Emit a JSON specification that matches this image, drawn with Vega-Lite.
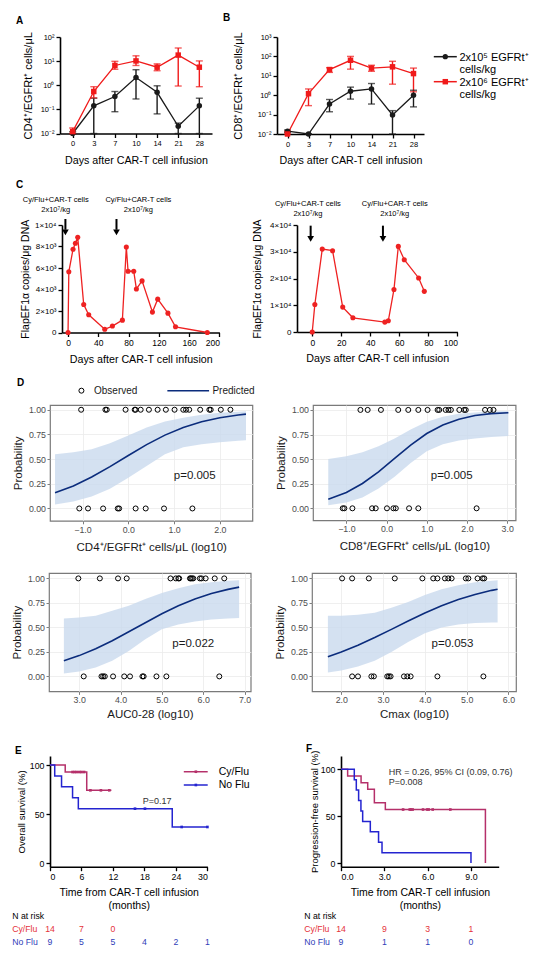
{
"padding": {"left": 0, "top": 13, "right": 0, "bottom": 0},
"spacing": 0,
"resolve": {"scale": {"color": "independent", "shape": "independent"}},
"config": {
  "font": "Liberation Sans",
  "view": {"stroke": null},
  "axis": {"domainColor": "#000000", "domainWidth": 1.6, "tickColor": "#000000", "tickWidth": 1.3, "tickSize": 4, "labelColor": "#000000", "labelFontSize": 8, "labelPadding": 2, "labelFont": "Liberation Sans", "titleFont": "Liberation Sans", "titleColor": "#000000", "titleFontSize": 10.5, "titleFontWeight": "normal", "grid": false, "labelOverlap": false},
  "title": {"font": "Liberation Sans"},
  "text": {"font": "Liberation Sans"}
},
"datasets": {
  "cd4": [
    {"day":0,"dose":"low","val":0.010,"lo":0.010,"hi":0.012},
    {"day":3,"dose":"low","val":0.14,"lo":0.010,"hi":0.29},
    {"day":7,"dose":"low","val":0.34,"lo":0.08,"hi":0.55},
    {"day":10,"dose":"low","val":2.1,"lo":0.27,"hi":4.4},
    {"day":14,"dose":"low","val":0.51,"lo":0.065,"hi":0.95},
    {"day":21,"dose":"low","val":0.020,"lo":0.010,"hi":0.027},
    {"day":28,"dose":"low","val":0.14,"lo":0.010,"hi":0.29},
    {"day":0,"dose":"high","val":0.012,"lo":0.010,"hi":0.017},
    {"day":3,"dose":"high","val":0.55,"lo":0.30,"hi":0.87},
    {"day":7,"dose":"high","val":6.6,"lo":4.6,"hi":9.8},
    {"day":10,"dose":"high","val":10.2,"lo":6.6,"hi":16.6},
    {"day":14,"dose":"high","val":5.6,"lo":4.0,"hi":7.7},
    {"day":21,"dose":"high","val":17.8,"lo":0.93,"hi":35},
    {"day":28,"dose":"high","val":5.6,"lo":0.87,"hi":10.2}
  ],
  "cd8": [
    {"day":0,"dose":"low","val":0.014,"lo":0.012,"hi":0.016},
    {"day":3,"dose":"low","val":0.010,"lo":0.010,"hi":0.010},
    {"day":7,"dose":"low","val":0.35,"lo":0.14,"hi":0.6},
    {"day":10,"dose":"low","val":1.6,"lo":0.63,"hi":2.6},
    {"day":14,"dose":"low","val":2.1,"lo":0.35,"hi":4.0},
    {"day":21,"dose":"low","val":0.095,"lo":0.010,"hi":0.16},
    {"day":28,"dose":"low","val":1.0,"lo":0.25,"hi":1.8},
    {"day":0,"dose":"high","val":0.010,"lo":0.010,"hi":0.014},
    {"day":3,"dose":"high","val":1.2,"lo":0.29,"hi":2.1},
    {"day":7,"dose":"high","val":21,"lo":15,"hi":26},
    {"day":10,"dose":"high","val":63,"lo":22,"hi":100},
    {"day":14,"dose":"high","val":25,"lo":17,"hi":35},
    {"day":21,"dose":"high","val":29,"lo":3.7,"hi":56},
    {"day":28,"dose":"high","val":13,"lo":1.5,"hi":25}
  ],
  "flapL": [{"day":0,"copies":0},{"day":1,"copies":5650},{"day":6.6,"copies":7750},{"day":9.7,"copies":8300},{"day":12.8,"copies":8850},{"day":20.7,"copies":2600},{"day":27.3,"copies":1650},{"day":48.5,"copies":300},{"day":58.6,"copies":600},{"day":71.8,"copies":1150},{"day":77,"copies":7950},{"day":79.3,"copies":5700},{"day":86.8,"copies":5700},{"day":90.3,"copies":4050},{"day":97.8,"copies":4800},{"day":111.5,"copies":1900},{"day":118.5,"copies":3100},{"day":132,"copies":1800},{"day":142,"copies":530},{"day":184,"copies":0}],
  "flapR": [{"day":0,"copies":0},{"day":1.8,"copies":10300},{"day":6.9,"copies":31000},{"day":14,"copies":30400},{"day":21,"copies":9300},{"day":28,"copies":5300},{"day":50,"copies":3700},{"day":52.4,"copies":4200},{"day":56.3,"copies":15900},{"day":59.3,"copies":32000},{"day":63.4,"copies":27000},{"day":73.3,"copies":20200},{"day":77.2,"copies":15200}],
  "infL": [{"day":-3.5,"labelDay":-16.3,"label":["Cy/Flu+CAR-T cells","2x10⁷/kg"]},{"day":64,"labelDay":92.9,"label":["Cy/Flu+CAR-T cells","2x10⁷/kg"]}],
  "infR": [{"day":-1.1,"labelDay":-3,"label":["Cy/Flu+CAR-T cells","2x10⁷/kg"]},{"day":48.7,"labelDay":56.8,"label":["Cy/Flu+CAR-T cells","2x10⁷/kg"]}],
  "d1c": [{"x":-1.6,"p":0.158,"lo":0.04,"hi":0.55},{"x":-1.2,"p":0.228,"lo":0.07,"hi":0.57},{"x":-0.8,"p":0.318,"lo":0.12,"hi":0.6},{"x":-0.4,"p":0.424,"lo":0.2,"hi":0.66},{"x":0,"p":0.537,"lo":0.31,"hi":0.74},{"x":0.4,"p":0.647,"lo":0.43,"hi":0.82},{"x":0.8,"p":0.743,"lo":0.55,"hi":0.88},{"x":1.2,"p":0.82,"lo":0.62,"hi":0.92},{"x":1.6,"p":0.878,"lo":0.65,"hi":0.95},{"x":2.0,"p":0.919,"lo":0.67,"hi":0.97},{"x":2.4,"p":0.947,"lo":0.685,"hi":0.98},{"x":2.57,"p":0.956,"lo":0.69,"hi":0.985}],
  "d1o": [{"x":-1.03,"y":1},{"x":-0.5,"y":1},{"x":-0.47,"y":1},{"x":-0.06,"y":1},{"x":0.14,"y":1},{"x":0.16,"y":1},{"x":0.27,"y":1},{"x":0.45,"y":1},{"x":0.64,"y":1},{"x":0.82,"y":1},{"x":1.01,"y":1},{"x":1.2,"y":1},{"x":1.26,"y":1},{"x":1.33,"y":1},{"x":1.57,"y":1},{"x":1.77,"y":1},{"x":1.8,"y":1},{"x":2.02,"y":1},{"x":2.23,"y":1},{"x":-1.07,"y":0},{"x":-0.88,"y":0},{"x":-0.55,"y":0},{"x":-0.23,"y":0},{"x":-0.2,"y":0},{"x":0.16,"y":0},{"x":0.38,"y":0},{"x":0.78,"y":0},{"x":1.4,"y":0}],
  "d2c": [{"x":-1.45,"p":0.093,"lo":0.03,"hi":0.5},{"x":-1.0,"p":0.161,"lo":0.06,"hi":0.53},{"x":-0.6,"p":0.252,"lo":0.11,"hi":0.57},{"x":-0.2,"p":0.371,"lo":0.2,"hi":0.63},{"x":0.2,"p":0.507,"lo":0.32,"hi":0.71},{"x":0.6,"p":0.643,"lo":0.46,"hi":0.8},{"x":1.0,"p":0.76,"lo":0.58,"hi":0.88},{"x":1.4,"p":0.847,"lo":0.65,"hi":0.93},{"x":1.8,"p":0.906,"lo":0.69,"hi":0.96},{"x":2.2,"p":0.944,"lo":0.71,"hi":0.975},{"x":2.6,"p":0.962,"lo":0.725,"hi":0.985},{"x":3.03,"p":0.972,"lo":0.735,"hi":0.99}],
  "d2o": [{"x":-0.65,"y":1},{"x":-0.47,"y":1},{"x":-0.14,"y":1},{"x":0.29,"y":1},{"x":0.54,"y":1},{"x":0.79,"y":1},{"x":1.02,"y":1},{"x":1.27,"y":1},{"x":1.31,"y":1},{"x":1.47,"y":1},{"x":1.54,"y":1},{"x":1.6,"y":1},{"x":1.81,"y":1},{"x":1.93,"y":1},{"x":1.97,"y":1},{"x":2.45,"y":1},{"x":2.57,"y":1},{"x":2.66,"y":1},{"x":-1.09,"y":0},{"x":-1.05,"y":0},{"x":-0.85,"y":0},{"x":-0.36,"y":0},{"x":-0.27,"y":0},{"x":0.01,"y":0},{"x":0.17,"y":0},{"x":0.23,"y":0},{"x":0.56,"y":0},{"x":0.79,"y":0},{"x":2.24,"y":0}],
  "d3c": [{"x":2.63,"p":0.16,"lo":0.03,"hi":0.59},{"x":3.0,"p":0.212,"lo":0.05,"hi":0.6},{"x":3.4,"p":0.282,"lo":0.09,"hi":0.62},{"x":3.8,"p":0.364,"lo":0.16,"hi":0.67},{"x":4.2,"p":0.455,"lo":0.26,"hi":0.72},{"x":4.6,"p":0.548,"lo":0.38,"hi":0.79},{"x":5.0,"p":0.639,"lo":0.48,"hi":0.85},{"x":5.4,"p":0.72,"lo":0.53,"hi":0.9},{"x":5.8,"p":0.79,"lo":0.56,"hi":0.94},{"x":6.2,"p":0.845,"lo":0.58,"hi":0.96},{"x":6.6,"p":0.888,"lo":0.59,"hi":0.975},{"x":6.87,"p":0.911,"lo":0.595,"hi":0.98}],
  "d3o": [{"x":2.98,"y":1},{"x":3.5,"y":1},{"x":3.94,"y":1},{"x":4.15,"y":1},{"x":5.21,"y":1},{"x":5.34,"y":1},{"x":5.4,"y":1},{"x":5.42,"y":1},{"x":5.68,"y":1},{"x":5.7,"y":1},{"x":5.73,"y":1},{"x":5.76,"y":1},{"x":5.92,"y":1},{"x":5.96,"y":1},{"x":6.06,"y":1},{"x":6.28,"y":1},{"x":6.51,"y":1},{"x":3.11,"y":0},{"x":3.54,"y":0},{"x":3.58,"y":0},{"x":3.62,"y":0},{"x":3.82,"y":0},{"x":4.09,"y":0},{"x":4.23,"y":0},{"x":4.53,"y":0},{"x":4.56,"y":0},{"x":4.87,"y":0},{"x":5.11,"y":0},{"x":6.39,"y":0}],
  "d4c": [{"x":1.68,"p":0.201,"lo":0.04,"hi":0.62},{"x":2.0,"p":0.248,"lo":0.06,"hi":0.62},{"x":2.4,"p":0.317,"lo":0.1,"hi":0.63},{"x":2.8,"p":0.396,"lo":0.16,"hi":0.65},{"x":3.2,"p":0.48,"lo":0.25,"hi":0.7},{"x":3.6,"p":0.565,"lo":0.35,"hi":0.76},{"x":4.0,"p":0.647,"lo":0.44,"hi":0.83},{"x":4.4,"p":0.72,"lo":0.5,"hi":0.89},{"x":4.8,"p":0.784,"lo":0.53,"hi":0.93},{"x":5.2,"p":0.836,"lo":0.545,"hi":0.96},{"x":5.6,"p":0.878,"lo":0.55,"hi":0.975},{"x":5.74,"p":0.89,"lo":0.55,"hi":0.98}],
  "d4o": [{"x":2.02,"y":1},{"x":2.26,"y":1},{"x":2.66,"y":1},{"x":3.28,"y":1},{"x":3.94,"y":1},{"x":4.2,"y":1},{"x":4.3,"y":1},{"x":4.48,"y":1},{"x":4.56,"y":1},{"x":4.64,"y":1},{"x":4.98,"y":1},{"x":5.04,"y":1},{"x":5.26,"y":1},{"x":5.38,"y":1},{"x":5.42,"y":1},{"x":2.26,"y":0},{"x":2.4,"y":0},{"x":2.72,"y":0},{"x":2.78,"y":0},{"x":3.1,"y":0},{"x":3.14,"y":0},{"x":3.18,"y":0},{"x":3.5,"y":0},{"x":3.58,"y":0},{"x":3.66,"y":0},{"x":4.3,"y":0},{"x":5.4,"y":0}],
  "osKM": [{"group":"Cy/Flu","t":0,"s":100},{"group":"Cy/Flu","t":2.9,"s":92.9},{"group":"Cy/Flu","t":7.0,"s":74.3},{"group":"Cy/Flu","t":11.7,"s":74.3},{"group":"No Flu","t":0,"s":100},{"group":"No Flu","t":0.9,"s":88.9},{"group":"No Flu","t":2.2,"s":77.8},{"group":"No Flu","t":4.3,"s":66.7},{"group":"No Flu","t":5.4,"s":55.6},{"group":"No Flu","t":23.3,"s":37.0},{"group":"No Flu","t":30,"s":37.0}],
  "osCens": [{"group":"Cy/Flu","t":4.3,"s":92.9},{"group":"Cy/Flu","t":4.7,"s":92.9},{"group":"Cy/Flu","t":5.1,"s":92.9},{"group":"Cy/Flu","t":5.6,"s":92.9},{"group":"Cy/Flu","t":6.0,"s":92.9},{"group":"Cy/Flu","t":6.5,"s":92.9},{"group":"Cy/Flu","t":7.7,"s":74.3},{"group":"Cy/Flu","t":9.7,"s":74.3},{"group":"Cy/Flu","t":11.3,"s":74.3},{"group":"No Flu","t":16.2,"s":55.6},{"group":"No Flu","t":18.1,"s":55.6},{"group":"No Flu","t":25.1,"s":37.0},{"group":"No Flu","t":30,"s":37.0}],
  "pfsKM": [{"group":"Cy/Flu","t":0,"s":100},{"group":"Cy/Flu","t":0.46,"s":92.9},{"group":"Cy/Flu","t":1.39,"s":85.7},{"group":"Cy/Flu","t":1.85,"s":78.6},{"group":"Cy/Flu","t":2.31,"s":64.3},{"group":"Cy/Flu","t":3.07,"s":57.1},{"group":"Cy/Flu","t":10.0,"s":0},{"group":"No Flu","t":0,"s":100},{"group":"No Flu","t":0.92,"s":88.9},{"group":"No Flu","t":1.06,"s":77.8},{"group":"No Flu","t":1.22,"s":66.7},{"group":"No Flu","t":1.38,"s":55.6},{"group":"No Flu","t":1.5,"s":44.4},{"group":"No Flu","t":2.03,"s":33.3},{"group":"No Flu","t":2.6,"s":22.2},{"group":"No Flu","t":2.84,"s":11.1},{"group":"No Flu","t":9.0,"s":0}],
  "pfsCens": [{"group":"Cy/Flu","t":4.3,"s":57.1},{"group":"Cy/Flu","t":4.76,"s":57.1},{"group":"Cy/Flu","t":4.85,"s":57.1},{"group":"Cy/Flu","t":4.96,"s":57.1},{"group":"Cy/Flu","t":5.68,"s":57.1},{"group":"Cy/Flu","t":5.96,"s":57.1},{"group":"Cy/Flu","t":6.07,"s":57.1},{"group":"Cy/Flu","t":6.35,"s":57.1},{"group":"Cy/Flu","t":7.57,"s":57.1}],
  "riskE": [{"group":"Cy/Flu","t":0,"n":14},{"group":"Cy/Flu","t":6,"n":7},{"group":"Cy/Flu","t":12,"n":0},{"group":"No Flu","t":0,"n":9},{"group":"No Flu","t":6,"n":5},{"group":"No Flu","t":12,"n":5},{"group":"No Flu","t":18,"n":4},{"group":"No Flu","t":24,"n":2},{"group":"No Flu","t":30,"n":1}],
  "riskF": [{"group":"Cy/Flu","t":0,"n":14},{"group":"Cy/Flu","t":3,"n":9},{"group":"Cy/Flu","t":6,"n":3},{"group":"Cy/Flu","t":9,"n":1},{"group":"No Flu","t":0,"n":9},{"group":"No Flu","t":3,"n":1},{"group":"No Flu","t":6,"n":1},{"group":"No Flu","t":9,"n":0}],
  "riskLab": [{"row":"head","label":"N at risk"},{"row":"Cy/Flu","label":"Cy/Flu"},{"row":"No Flu","label":"No Flu"}],
  "blank": [{"b": 0}]
},
"vconcat": [
 {"hconcat": [
  {"data": {"name": "blank"}, "mark": {"type": "point", "opacity": 0}, "encoding": {}, "width": 16, "height": 1},
  {"data": {"name": "blank"}, "mark": {"type": "point", "opacity": 0}, "encoding": {}, "width": 43.3, "height": 141.5,
   "title": {"text": "A", "anchor": "start", "offset": 3.5, "baseline": "alphabetic", "fontSize": 10, "fontWeight": "bold", "color": "#000000"}},
  {"width": 152, "height": 96.5, "data": {"name": "cd4"},
   "layer": [
    {"mark": {"type": "rule", "strokeWidth": 1.4},
     "encoding": {
      "x": {"field": "day", "type": "ordinal", "scale": {"type": "point", "padding": 0.6}, "axis": {"labelAngle": 0, "labelFontSize": 7.5, "title": "Days after CAR-T cell infusion", "titleFontSize": 10.7, "titlePadding": 8}},
      "y": {"field": "lo", "type": "quantitative", "scale": {"type": "log", "domain": [0.01, 100], "nice": false}, "axis": {"values": [0.01, 0.1, 1, 10, 100], "tickCount": 10, "labelOverlap": false, "labelExpr": "datum.value == 0.01 ? '10⁻²' : datum.value == 0.1 ? '10⁻¹' : datum.value == 1 ? '10⁰' : datum.value == 10 ? '10¹' : datum.value == 100 ? '10²' : '10³'", "labelFontSize": 7.5, "title": "CD4⁺/EGFRt⁺ cells/μL", "titleFontSize": 11, "titlePadding": 7}},
      "y2": {"field": "hi"},
      "color": {"field": "dose", "type": "nominal", "scale": {"domain": ["low", "high"], "range": ["#1a1a1a", "#f01a1a"]}, "legend": null}
     }},
    {"mark": {"type": "tick", "size": 7, "thickness": 1.4},
     "encoding": {"x": {"field": "day", "type": "ordinal"}, "y": {"field": "hi", "type": "quantitative"}, "color": {"field": "dose", "type": "nominal", "legend": null}}},
    {"mark": {"type": "tick", "size": 7, "thickness": 1.4},
     "encoding": {"x": {"field": "day", "type": "ordinal"}, "y": {"field": "lo", "type": "quantitative"}, "color": {"field": "dose", "type": "nominal", "legend": null}}},
    {"mark": {"type": "line", "strokeWidth": 1.3},
     "encoding": {"x": {"field": "day", "type": "ordinal"}, "y": {"field": "val", "type": "quantitative"}, "color": {"field": "dose", "type": "nominal", "legend": null}}},
    {"mark": {"type": "point", "filled": true, "size": 30, "opacity": 1},
     "encoding": {"x": {"field": "day", "type": "ordinal"}, "y": {"field": "val", "type": "quantitative"}, "color": {"field": "dose", "type": "nominal", "legend": null}, "shape": {"field": "dose", "type": "nominal", "scale": {"domain": ["low", "high"], "range": ["circle", "square"]}, "legend": null}}}
   ]},
  {"data": {"name": "blank"}, "mark": {"type": "point", "opacity": 0}, "encoding": {}, "width": 10.4, "height": 1},
  {"data": {"name": "blank"}, "mark": {"type": "point", "opacity": 0}, "encoding": {}, "width": 53.3, "height": 1,
   "title": {"text": "B", "anchor": "start", "offset": 3.5, "baseline": "alphabetic", "fontSize": 10, "fontWeight": "bold", "color": "#000000"}},
  {"width": 147, "height": 97, "data": {"name": "cd8"},
   "layer": [
    {"mark": {"type": "rule", "strokeWidth": 1.4},
     "encoding": {
      "x": {"field": "day", "type": "ordinal", "scale": {"type": "point", "padding": 0.5}, "axis": {"labelAngle": 0, "labelFontSize": 7.5, "title": "Days after CAR-T cell infusion", "titleFontSize": 10.7, "titlePadding": 8}},
      "y": {"field": "lo", "type": "quantitative", "scale": {"type": "log", "domain": [0.01, 1000], "nice": false}, "axis": {"values": [0.01, 0.1, 1, 10, 100, 1000], "tickCount": 10, "labelOverlap": false, "labelExpr": "datum.value == 0.01 ? '10⁻²' : datum.value == 0.1 ? '10⁻¹' : datum.value == 1 ? '10⁰' : datum.value == 10 ? '10¹' : datum.value == 100 ? '10²' : '10³'", "labelFontSize": 7.5, "title": "CD8⁺/EGFRt⁺ cells/μL", "titleFontSize": 11, "titlePadding": 14}},
      "y2": {"field": "hi"},
      "color": {"field": "dose", "type": "nominal", "scale": {"domain": ["low", "high"], "range": ["#1a1a1a", "#f01a1a"]}, "legend": null}
     }},
    {"mark": {"type": "tick", "size": 7, "thickness": 1.4},
     "encoding": {"x": {"field": "day", "type": "ordinal"}, "y": {"field": "hi", "type": "quantitative"}, "color": {"field": "dose", "type": "nominal", "legend": null}}},
    {"mark": {"type": "tick", "size": 7, "thickness": 1.4},
     "encoding": {"x": {"field": "day", "type": "ordinal"}, "y": {"field": "lo", "type": "quantitative"}, "color": {"field": "dose", "type": "nominal", "legend": null}}},
    {"mark": {"type": "line", "strokeWidth": 1.3},
     "encoding": {"x": {"field": "day", "type": "ordinal"}, "y": {"field": "val", "type": "quantitative"}, "color": {"field": "dose", "type": "nominal", "legend": null}}},
    {"mark": {"type": "point", "filled": true, "size": 30, "opacity": 1},
     "encoding": {"x": {"field": "day", "type": "ordinal"}, "y": {"field": "val", "type": "quantitative"}, "color": {"field": "dose", "type": "nominal", "legend": null}, "shape": {"field": "dose", "type": "nominal", "scale": {"domain": ["low", "high"], "range": ["circle", "square"]}, "legend": null}}},
    {"data": {"values": [{"k": 1}]}, "mark": {"type": "rule", "color": "#1a1a1a", "strokeWidth": 1.5, "xOffset": 20.3, "x2Offset": 43.3},
     "encoding": {"x": {"datum": 28, "type": "ordinal"}, "x2": {"datum": 28}, "y": {"datum": 96.6, "type": "quantitative"}}},
    {"data": {"values": [{"k": 1}]}, "mark": {"type": "point", "shape": "circle", "filled": true, "size": 28, "opacity": 1, "color": "#1a1a1a", "xOffset": 31.8},
     "encoding": {"x": {"datum": 28, "type": "ordinal"}, "y": {"datum": 96.6, "type": "quantitative"}}},
    {"data": {"values": [{"label": ["2x10⁵ EGFRt⁺", "cells/kg"]}]}, "mark": {"type": "text", "align": "left", "baseline": "alphabetic", "dx": 46, "dy": 4, "lineHeight": 12, "fontSize": 11, "color": "#000000"},
     "encoding": {"x": {"datum": 28, "type": "ordinal"}, "y": {"datum": 96.6, "type": "quantitative"}, "text": {"field": "label"}}},
    {"data": {"values": [{"k": 1}]}, "mark": {"type": "rule", "color": "#f01a1a", "strokeWidth": 1.5, "xOffset": 20.3, "x2Offset": 43.3},
     "encoding": {"x": {"datum": 28, "type": "ordinal"}, "x2": {"datum": 28}, "y": {"datum": 4.97, "type": "quantitative"}}},
    {"data": {"values": [{"k": 1}]}, "mark": {"type": "point", "shape": "square", "filled": true, "size": 30, "opacity": 1, "color": "#f01a1a", "xOffset": 31.8},
     "encoding": {"x": {"datum": 28, "type": "ordinal"}, "y": {"datum": 4.97, "type": "quantitative"}}},
    {"data": {"values": [{"label": ["2x10⁶ EGFRt⁺", "cells/kg"]}]}, "mark": {"type": "text", "align": "left", "baseline": "alphabetic", "dx": 46, "dy": 4, "lineHeight": 12, "fontSize": 11, "color": "#000000"},
     "encoding": {"x": {"datum": 28, "type": "ordinal"}, "y": {"datum": 4.97, "type": "quantitative"}, "text": {"field": "label"}}}
   ]}
 ], "spacing": 0, "bounds": "flush", "resolve": {"scale": {"color": "independent", "shape": "independent"}}},

 {"hconcat": [
  {"data": {"name": "blank"}, "mark": {"type": "point", "opacity": 0}, "encoding": {}, "width": 16, "height": 1},
  {"data": {"name": "blank"}, "mark": {"type": "point", "opacity": 0}, "encoding": {}, "width": 45.7, "height": 152.8,
   "title": {"text": "C", "anchor": "start", "offset": 27.5, "baseline": "alphabetic", "fontSize": 10, "fontWeight": "bold", "color": "#000000"}},
  {"width": 157.4, "height": 107.5,
   "layer": [
    {"data": {"name": "flapL"}, "mark": {"type": "line", "color": "#ee2222", "strokeWidth": 1.3},
     "encoding": {
      "x": {"field": "day", "type": "quantitative", "scale": {"domain": [-8, 200], "nice": false, "zero": false}, "axis": {"values": [0, 40, 80, 120, 160, 200], "tickCount": 20, "labelOverlap": false, "labelFontSize": 8.5, "title": "Days after CAR-T cell infusion", "titleFontSize": 10.7, "titlePadding": 7}},
      "y": {"field": "copies", "type": "quantitative", "scale": {"domain": [0, 10000], "nice": false}, "axis": {"values": [0, 2000, 4000, 6000, 8000, 10000], "tickCount": 20, "labelOverlap": false, "labelFontSize": 8, "labelExpr": "datum.value == 0 ? '0' : datum.value % 10000 == 0 ? (datum.value / 10000) + '×10⁴' : (datum.value / 1000) + '×10³'", "title": "FlapEF1α copies/μg DNA", "titleFontSize": 10.5, "titlePadding": 4.5}}
     }},
    {"data": {"name": "flapL"}, "mark": {"type": "point", "filled": true, "color": "#ee2222", "size": 26, "opacity": 1},
     "encoding": {"x": {"field": "day", "type": "quantitative"}, "y": {"field": "copies", "type": "quantitative"}}},
    {"data": {"name": "infL"}, "mark": {"type": "rule", "strokeWidth": 2, "color": "#000000"},
     "encoding": {"x": {"field": "day", "type": "quantitative"}, "y": {"datum": 10560}, "y2": {"datum": 9560}}},
    {"data": {"name": "infL"}, "mark": {"type": "point", "shape": "triangle-down", "filled": true, "color": "#000000", "size": 45, "opacity": 1},
     "encoding": {"x": {"field": "day", "type": "quantitative"}, "y": {"datum": 9310}}},
    {"data": {"name": "infL"}, "mark": {"type": "text", "fontSize": 7.5, "lineHeight": 10, "baseline": "alphabetic", "align": "center", "dy": -23, "color": "#000000"},
     "encoding": {"x": {"field": "labelDay", "type": "quantitative"}, "y": {"datum": 10000}, "text": {"field": "label"}}}
   ]},
  {"data": {"name": "blank"}, "mark": {"type": "point", "opacity": 0}, "encoding": {}, "width": 76.6, "height": 1},
  {"width": 160.4, "height": 107,
   "layer": [
    {"data": {"name": "flapR"}, "mark": {"type": "line", "color": "#ee2222", "strokeWidth": 1.3},
     "encoding": {
      "x": {"field": "day", "type": "quantitative", "scale": {"domain": [-10.5, 100], "nice": false, "zero": false}, "axis": {"values": [0, 20, 40, 60, 80, 100], "tickCount": 20, "labelOverlap": false, "labelFontSize": 8.5, "title": "Days after CAR-T cell infusion", "titleFontSize": 10.7, "titlePadding": 7}},
      "y": {"field": "copies", "type": "quantitative", "scale": {"domain": [0, 40000], "nice": false}, "axis": {"values": [0, 10000, 20000, 30000, 40000], "tickCount": 20, "labelOverlap": false, "labelFontSize": 8, "labelExpr": "datum.value == 0 ? '0' : datum.value % 10000 == 0 ? (datum.value / 10000) + '×10⁴' : (datum.value / 1000) + '×10³'", "title": "FlapEF1α copies/μg DNA", "titleFontSize": 10.5, "titlePadding": 7}}
     }},
    {"data": {"name": "flapR"}, "mark": {"type": "point", "filled": true, "color": "#ee2222", "size": 26, "opacity": 1},
     "encoding": {"x": {"field": "day", "type": "quantitative"}, "y": {"field": "copies", "type": "quantitative"}}},
    {"data": {"name": "infR"}, "mark": {"type": "rule", "strokeWidth": 2, "color": "#000000"},
     "encoding": {"x": {"field": "day", "type": "quantitative"}, "y": {"datum": 39750}, "y2": {"datum": 35780}}},
    {"data": {"name": "infR"}, "mark": {"type": "point", "shape": "triangle-down", "filled": true, "color": "#000000", "size": 45, "opacity": 1},
     "encoding": {"x": {"field": "day", "type": "quantitative"}, "y": {"datum": 34780}}},
    {"data": {"name": "infR"}, "mark": {"type": "text", "fontSize": 7.5, "lineHeight": 10, "baseline": "alphabetic", "align": "center", "dy": -19.5, "color": "#000000"},
     "encoding": {"x": {"field": "labelDay", "type": "quantitative"}, "y": {"datum": 40000}, "text": {"field": "label"}}}
   ]}
 ], "spacing": 0, "bounds": "flush", "resolve": {"scale": {"color": "independent", "shape": "independent"}}},

 {"hconcat": [
  {"data": {"name": "blank"}, "mark": {"type": "point", "opacity": 0}, "encoding": {}, "width": 16.7, "height": 1},
  {"data": {"name": "blank"}, "mark": {"type": "point", "opacity": 0}, "encoding": {}, "width": 32.6, "height": 164.3,
   "title": {"text": "D", "anchor": "start", "offset": 8.7, "baseline": "alphabetic", "fontSize": 10, "fontWeight": "bold", "color": "#000000"}},
  {"width": 202.4, "height": 115.8,
   "view": {"stroke": "#7a7a7a", "strokeWidth": 1.2},
   "layer": [
    {"data": {"name": "d1c"}, "mark": {"type": "area", "color": "#c9d9ee", "opacity": 0.8},
     "encoding": {
      "x": {"field": "x", "type": "quantitative", "scale": {"domain": [-1.71, 2.71], "nice": false, "zero": false}, "axis": {"values": [-1, 0, 1, 2], "tickCount": 20, "labelOverlap": false, "title": "CD4⁺/EGFRt⁺ cells/μL (log10)", "domain": false, "tickColor": "#7f7f7f", "tickWidth": 1, "tickSize": 3, "labelColor": "#4d4d4d", "labelFontSize": 8.8, "labelPadding": 1.5, "grid": true, "gridColor": "#ebebeb", "gridWidth": 0.8, "titleFontSize": 11.5, "titleColor": "#1a1a1a", "titlePadding": 7}},
      "y": {"field": "lo", "type": "quantitative", "scale": {"domain": [-0.125, 1.048], "nice": false, "zero": false}, "axis": {"values": [0, 0.25, 0.5, 0.75, 1], "tickCount": 20, "labelOverlap": false, "format": ".2f", "title": "Probability", "domain": false, "tickColor": "#7f7f7f", "tickWidth": 1, "tickSize": 3, "labelColor": "#4d4d4d", "labelFontSize": 8.8, "labelPadding": 1.5, "grid": true, "gridColor": "#ebebeb", "gridWidth": 0.8, "titleFontSize": 11.5, "titleColor": "#1a1a1a", "titlePadding": 5}},
      "y2": {"field": "hi"}
     }},
    {"data": {"name": "d1c"}, "mark": {"type": "line", "color": "#0b2c7c", "strokeWidth": 1.6},
     "encoding": {"x": {"field": "x", "type": "quantitative"}, "y": {"field": "p", "type": "quantitative"}}},
    {"data": {"name": "d1o"}, "mark": {"type": "point", "shape": "circle", "filled": false, "color": "#000000", "size": 25, "strokeWidth": 1, "opacity": 1},
     "encoding": {"x": {"field": "x", "type": "quantitative"}, "y": {"field": "y", "type": "quantitative"}}},
    {"data": {"values": [{"label": "p=0.005"}]}, "mark": {"type": "text", "fontSize": 11.5, "color": "#1a1a1a"},
     "encoding": {"x": {"datum": 1.45}, "y": {"datum": 0.33}, "text": {"field": "label"}}},
    {"data": {"values": [{"k": 1}]}, "mark": {"type": "point", "shape": "circle", "filled": false, "color": "#000000", "size": 25, "strokeWidth": 1, "opacity": 1},
     "encoding": {"x": {"datum": -1.024}, "y": {"datum": 1.193}}},
    {"data": {"values": [{"label": "Observed"}]}, "mark": {"type": "text", "align": "left", "baseline": "middle", "fontSize": 10, "color": "#1a1a1a"},
     "encoding": {"x": {"datum": -0.749}, "y": {"datum": 1.193}, "text": {"field": "label"}}},
    {"data": {"values": [{"k": 1}]}, "mark": {"type": "rule", "color": "#0b2c7c", "strokeWidth": 1.6},
     "encoding": {"x": {"datum": 0.853}, "x2": {"datum": 1.764}, "y": {"datum": 1.193}}},
    {"data": {"values": [{"label": "Predicted"}]}, "mark": {"type": "text", "align": "left", "baseline": "middle", "fontSize": 10, "color": "#1a1a1a"},
     "encoding": {"x": {"datum": 1.836}, "y": {"datum": 1.193}, "text": {"field": "label"}}}
   ]},
  {"data": {"name": "blank"}, "mark": {"type": "point", "opacity": 0}, "encoding": {}, "width": 60, "height": 1},
  {"width": 202.6, "height": 115.3,
   "view": {"stroke": "#7a7a7a", "strokeWidth": 1.2},
   "layer": [
    {"data": {"name": "d2c"}, "mark": {"type": "area", "color": "#c9d9ee", "opacity": 0.8},
     "encoding": {
      "x": {"field": "x", "type": "quantitative", "scale": {"domain": [-1.83, 3.21], "nice": false, "zero": false}, "axis": {"values": [-1, 0, 1, 2, 3], "tickCount": 20, "labelOverlap": false, "title": "CD8⁺/EGFRt⁺ cells/μL (log10)", "domain": false, "tickColor": "#7f7f7f", "tickWidth": 1, "tickSize": 3, "labelColor": "#4d4d4d", "labelFontSize": 8.8, "labelPadding": 1.5, "grid": true, "gridColor": "#ebebeb", "gridWidth": 0.8, "titleFontSize": 11.5, "titleColor": "#1a1a1a", "titlePadding": 7}},
      "y": {"field": "lo", "type": "quantitative", "scale": {"domain": [-0.122, 1.05], "nice": false, "zero": false}, "axis": {"values": [0, 0.25, 0.5, 0.75, 1], "tickCount": 20, "labelOverlap": false, "format": ".2f", "title": "Probability", "domain": false, "tickColor": "#7f7f7f", "tickWidth": 1, "tickSize": 3, "labelColor": "#4d4d4d", "labelFontSize": 8.8, "labelPadding": 1.5, "grid": true, "gridColor": "#ebebeb", "gridWidth": 0.8, "titleFontSize": 11.5, "titleColor": "#1a1a1a", "titlePadding": 5}},
      "y2": {"field": "hi"}
     }},
    {"data": {"name": "d2c"}, "mark": {"type": "line", "color": "#0b2c7c", "strokeWidth": 1.6},
     "encoding": {"x": {"field": "x", "type": "quantitative"}, "y": {"field": "p", "type": "quantitative"}}},
    {"data": {"name": "d2o"}, "mark": {"type": "point", "shape": "circle", "filled": false, "color": "#000000", "size": 25, "strokeWidth": 1, "opacity": 1},
     "encoding": {"x": {"field": "x", "type": "quantitative"}, "y": {"field": "y", "type": "quantitative"}}},
    {"data": {"values": [{"label": "p=0.005"}]}, "mark": {"type": "text", "fontSize": 11.5, "color": "#1a1a1a"},
     "encoding": {"x": {"datum": 1.62}, "y": {"datum": 0.33}, "text": {"field": "label"}}}
   ]}
 ], "spacing": 0, "bounds": "flush", "resolve": {"scale": {"color": "independent", "shape": "independent"}}},

 {"hconcat": [
  {"data": {"name": "blank"}, "mark": {"type": "point", "opacity": 0}, "encoding": {}, "width": 49, "height": 169.7},
  {"width": 201.7, "height": 118.4,
   "view": {"stroke": "#7a7a7a", "strokeWidth": 1.2},
   "layer": [
    {"data": {"name": "d3c"}, "mark": {"type": "area", "color": "#c9d9ee", "opacity": 0.8},
     "encoding": {
      "x": {"field": "x", "type": "quantitative", "scale": {"domain": [2.27, 7.15], "nice": false, "zero": false}, "axis": {"values": [3, 4, 5, 6, 7], "tickCount": 20, "labelOverlap": false, "title": "AUC0-28 (log10)", "domain": false, "tickColor": "#7f7f7f", "tickWidth": 1, "tickSize": 3, "labelColor": "#4d4d4d", "labelFontSize": 8.8, "labelPadding": 1.5, "grid": true, "gridColor": "#ebebeb", "gridWidth": 0.8, "titleFontSize": 11.5, "titleColor": "#1a1a1a", "titlePadding": 4}},
      "y": {"field": "lo", "type": "quantitative", "scale": {"domain": [-0.153, 1.055], "nice": false, "zero": false}, "axis": {"values": [0, 0.25, 0.5, 0.75, 1], "tickCount": 20, "labelOverlap": false, "format": ".2f", "title": "Probability", "domain": false, "tickColor": "#7f7f7f", "tickWidth": 1, "tickSize": 3, "labelColor": "#4d4d4d", "labelFontSize": 8.8, "labelPadding": 1.5, "grid": true, "gridColor": "#ebebeb", "gridWidth": 0.8, "titleFontSize": 11.5, "titleColor": "#1a1a1a", "titlePadding": 5}},
      "y2": {"field": "hi"}
     }},
    {"data": {"name": "d3c"}, "mark": {"type": "line", "color": "#0b2c7c", "strokeWidth": 1.6},
     "encoding": {"x": {"field": "x", "type": "quantitative"}, "y": {"field": "p", "type": "quantitative"}}},
    {"data": {"name": "d3o"}, "mark": {"type": "point", "shape": "circle", "filled": false, "color": "#000000", "size": 25, "strokeWidth": 1, "opacity": 1},
     "encoding": {"x": {"field": "x", "type": "quantitative"}, "y": {"field": "y", "type": "quantitative"}}},
    {"data": {"values": [{"label": "p=0.022"}]}, "mark": {"type": "text", "fontSize": 11.5, "color": "#1a1a1a"},
     "encoding": {"x": {"datum": 5.76}, "y": {"datum": 0.33}, "text": {"field": "label"}}}
   ]},
  {"data": {"name": "blank"}, "mark": {"type": "point", "opacity": 0}, "encoding": {}, "width": 60.3, "height": 1},
  {"width": 204, "height": 118.4,
   "view": {"stroke": "#7a7a7a", "strokeWidth": 1.2},
   "layer": [
    {"data": {"name": "d4c"}, "mark": {"type": "area", "color": "#c9d9ee", "opacity": 0.8},
     "encoding": {
      "x": {"field": "x", "type": "quantitative", "scale": {"domain": [1.3, 6.18], "nice": false, "zero": false}, "axis": {"values": [2, 3, 4, 5, 6], "tickCount": 20, "labelOverlap": false, "title": "Cmax (log10)", "domain": false, "tickColor": "#7f7f7f", "tickWidth": 1, "tickSize": 3, "labelColor": "#4d4d4d", "labelFontSize": 8.8, "labelPadding": 1.5, "grid": true, "gridColor": "#ebebeb", "gridWidth": 0.8, "titleFontSize": 11.5, "titleColor": "#1a1a1a", "titlePadding": 4}},
      "y": {"field": "lo", "type": "quantitative", "scale": {"domain": [-0.153, 1.055], "nice": false, "zero": false}, "axis": {"values": [0, 0.25, 0.5, 0.75, 1], "tickCount": 20, "labelOverlap": false, "format": ".2f", "title": "Probability", "domain": false, "tickColor": "#7f7f7f", "tickWidth": 1, "tickSize": 3, "labelColor": "#4d4d4d", "labelFontSize": 8.8, "labelPadding": 1.5, "grid": true, "gridColor": "#ebebeb", "gridWidth": 0.8, "titleFontSize": 11.5, "titleColor": "#1a1a1a", "titlePadding": 5}},
      "y2": {"field": "hi"}
     }},
    {"data": {"name": "d4c"}, "mark": {"type": "line", "color": "#0b2c7c", "strokeWidth": 1.6},
     "encoding": {"x": {"field": "x", "type": "quantitative"}, "y": {"field": "p", "type": "quantitative"}}},
    {"data": {"name": "d4o"}, "mark": {"type": "point", "shape": "circle", "filled": false, "color": "#000000", "size": 25, "strokeWidth": 1, "opacity": 1},
     "encoding": {"x": {"field": "x", "type": "quantitative"}, "y": {"field": "y", "type": "quantitative"}}},
    {"data": {"values": [{"label": "p=0.053"}]}, "mark": {"type": "text", "fontSize": 11.5, "color": "#1a1a1a"},
     "encoding": {"x": {"datum": 4.66}, "y": {"datum": 0.33}, "text": {"field": "label"}}}
   ]}
 ], "spacing": 0, "bounds": "flush", "resolve": {"scale": {"color": "independent", "shape": "independent"}}},

 {"hconcat": [
  {"data": {"name": "blank"}, "mark": {"type": "point", "opacity": 0}, "encoding": {}, "width": 15, "height": 1},
  {"data": {"name": "blank"}, "mark": {"type": "point", "opacity": 0}, "encoding": {}, "width": 34.3, "height": 200,
   "title": {"text": "E", "anchor": "start", "offset": -8, "baseline": "alphabetic", "fontSize": 10, "fontWeight": "bold", "color": "#000000"}},
  {"width": 157.4, "height": 110.7,
   "layer": [
    {"data": {"name": "osKM"}, "mark": {"type": "line", "interpolate": "step-after", "strokeWidth": 1.5},
     "encoding": {
      "x": {"field": "t", "type": "quantitative", "scale": {"domain": [0, 30], "nice": false, "zero": false}, "axis": {"values": [0, 6, 12, 18, 24, 30], "tickCount": 20, "labelOverlap": false, "labelFontSize": 8.8, "title": ["Time from CAR-T cell infusion", "(months)"], "titleFontSize": 10.5, "titlePadding": 6}},
      "y": {"field": "s", "type": "quantitative", "scale": {"domain": [-3.4, 109.2], "nice": false, "zero": false}, "axis": {"values": [0, 50, 100], "tickCount": 20, "labelOverlap": false, "labelFontSize": 8.8, "title": "Overall survival (%)", "titleFontSize": 9.6, "titlePadding": 3}},
      "color": {"field": "group", "type": "nominal", "scale": {"domain": ["Cy/Flu", "No Flu"], "range": ["#b5306a", "#2424d0"]}, "legend": null}
     }},
    {"data": {"name": "osCens"}, "mark": {"type": "point", "shape": "square", "filled": true, "size": 7, "opacity": 1},
     "encoding": {"x": {"field": "t", "type": "quantitative"}, "y": {"field": "s", "type": "quantitative"}, "color": {"field": "group", "type": "nominal", "legend": null}}},
    {"data": {"values": [{"label": "P=0.17"}]}, "mark": {"type": "text", "fontSize": 9, "color": "#333333"},
     "encoding": {"x": {"datum": 20.4}, "y": {"datum": 63.4}, "text": {"field": "label"}}},
    {"data": {"values": [{"k": 1}]}, "mark": {"type": "rule", "color": "#b5306a", "strokeWidth": 1.5},
     "encoding": {"x": {"datum": 25.5}, "x2": {"datum": 30.06}, "y": {"datum": 93.2}}},
    {"data": {"values": [{"k": 1}]}, "mark": {"type": "point", "shape": "square", "filled": true, "size": 7, "opacity": 1, "color": "#b5306a"},
     "encoding": {"x": {"datum": 27.8}, "y": {"datum": 93.2}}},
    {"data": {"values": [{"label": "Cy/Flu"}]}, "mark": {"type": "text", "align": "left", "baseline": "middle", "fontSize": 10.5, "color": "#000000"},
     "encoding": {"x": {"datum": 32.15}, "y": {"datum": 93.2}, "text": {"field": "label"}}},
    {"data": {"values": [{"k": 1}]}, "mark": {"type": "rule", "color": "#2424d0", "strokeWidth": 1.5},
     "encoding": {"x": {"datum": 25.5}, "x2": {"datum": 30.06}, "y": {"datum": 79.7}}},
    {"data": {"values": [{"k": 1}]}, "mark": {"type": "point", "shape": "square", "filled": true, "size": 7, "opacity": 1, "color": "#2424d0"},
     "encoding": {"x": {"datum": 27.8}, "y": {"datum": 79.7}}},
    {"data": {"values": [{"label": "No Flu"}]}, "mark": {"type": "text", "align": "left", "baseline": "middle", "fontSize": 10.5, "color": "#000000"},
     "encoding": {"x": {"datum": 32.15}, "y": {"datum": 79.7}, "text": {"field": "label"}}},
    {"data": {"name": "riskLab"}, "transform": [{"filter": "datum.row == 'head'"}], "mark": {"type": "text", "align": "left", "fontSize": 8.7, "color": "#000000"},
     "encoding": {"x": {"datum": -7.2}, "y": {"datum": -53.6}, "text": {"field": "label"}}},
    {"data": {"name": "riskLab"}, "transform": [{"filter": "datum.row == 'Cy/Flu'"}], "mark": {"type": "text", "align": "left", "fontSize": 8.7, "color": "#e5323a"},
     "encoding": {"x": {"datum": -7.2}, "y": {"datum": -67.1}, "text": {"field": "label"}}},
    {"data": {"name": "riskLab"}, "transform": [{"filter": "datum.row == 'No Flu'"}], "mark": {"type": "text", "align": "left", "fontSize": 8.7, "color": "#3040b8"},
     "encoding": {"x": {"datum": -7.2}, "y": {"datum": -79.8}, "text": {"field": "label"}}},
    {"data": {"name": "riskE"}, "transform": [{"filter": "datum.group == 'Cy/Flu'"}], "mark": {"type": "text", "fontSize": 8.7, "color": "#e5323a"},
     "encoding": {"x": {"field": "t", "type": "quantitative"}, "y": {"datum": -67.1}, "text": {"field": "n", "type": "nominal"}}},
    {"data": {"name": "riskE"}, "transform": [{"filter": "datum.group == 'No Flu'"}], "mark": {"type": "text", "fontSize": 8.7, "color": "#3040b8"},
     "encoding": {"x": {"field": "t", "type": "quantitative"}, "y": {"datum": -79.8}, "text": {"field": "n", "type": "nominal"}}}
   ]},
  {"data": {"name": "blank"}, "mark": {"type": "point", "opacity": 0}, "encoding": {}, "width": 97.6, "height": 1},
  {"data": {"name": "blank"}, "mark": {"type": "point", "opacity": 0}, "encoding": {}, "width": 34.7, "height": 1,
   "title": {"text": "F", "anchor": "start", "offset": -8, "baseline": "alphabetic", "fontSize": 10, "fontWeight": "bold", "color": "#000000"}},
  {"width": 157.7, "height": 110.7,
   "layer": [
    {"data": {"name": "pfsKM"}, "mark": {"type": "line", "interpolate": "step-after", "strokeWidth": 1.5},
     "encoding": {
      "x": {"field": "t", "type": "quantitative", "scale": {"domain": [0, 10.92], "nice": false, "zero": false}, "axis": {"values": [0, 3, 6, 9], "tickCount": 20, "labelOverlap": false, "labelFontSize": 8.8, "title": ["Time from CAR-T cell infusion", "(months)"], "titleFontSize": 10.5, "titlePadding": 6}},
      "y": {"field": "s", "type": "quantitative", "scale": {"domain": [-3.9, 114.2], "nice": false, "zero": false}, "axis": {"values": [0, 50, 100], "tickCount": 20, "labelOverlap": false, "labelFontSize": 8.8, "title": "Progression-free survival (%)", "titleFontSize": 9.5, "titlePadding": 1}},
      "color": {"field": "group", "type": "nominal", "scale": {"domain": ["Cy/Flu", "No Flu"], "range": ["#b5306a", "#2424d0"]}, "legend": null}
     }},
    {"data": {"name": "pfsCens"}, "mark": {"type": "point", "shape": "square", "filled": true, "size": 7, "opacity": 1},
     "encoding": {"x": {"field": "t", "type": "quantitative"}, "y": {"field": "s", "type": "quantitative"}, "color": {"field": "group", "type": "nominal", "legend": null}}},
    {"data": {"values": [{"label": ["HR = 0.26, 95% CI (0.09, 0.76)", "P=0.008"]}]}, "mark": {"type": "text", "fontSize": 9, "align": "left", "baseline": "alphabetic", "lineHeight": 10, "color": "#333333"},
     "encoding": {"x": {"datum": 3.3}, "y": {"datum": 93.9}, "text": {"field": "label"}}},
    {"data": {"name": "riskLab"}, "transform": [{"filter": "datum.row == 'head'"}], "mark": {"type": "text", "align": "left", "fontSize": 8.7, "color": "#000000"},
     "encoding": {"x": {"datum": -2.54}, "y": {"datum": -56.6}, "text": {"field": "label"}}},
    {"data": {"name": "riskLab"}, "transform": [{"filter": "datum.row == 'Cy/Flu'"}], "mark": {"type": "text", "align": "left", "fontSize": 8.7, "color": "#e5323a"},
     "encoding": {"x": {"datum": -2.54}, "y": {"datum": -70.8}, "text": {"field": "label"}}},
    {"data": {"name": "riskLab"}, "transform": [{"filter": "datum.row == 'No Flu'"}], "mark": {"type": "text", "align": "left", "fontSize": 8.7, "color": "#3040b8"},
     "encoding": {"x": {"datum": -2.54}, "y": {"datum": -84}, "text": {"field": "label"}}},
    {"data": {"name": "riskF"}, "transform": [{"filter": "datum.group == 'Cy/Flu'"}], "mark": {"type": "text", "fontSize": 8.7, "color": "#e5323a"},
     "encoding": {"x": {"field": "t", "type": "quantitative"}, "y": {"datum": -70.8}, "text": {"field": "n", "type": "nominal"}}},
    {"data": {"name": "riskF"}, "transform": [{"filter": "datum.group == 'No Flu'"}], "mark": {"type": "text", "fontSize": 8.7, "color": "#3040b8"},
     "encoding": {"x": {"field": "t", "type": "quantitative"}, "y": {"datum": -84}, "text": {"field": "n", "type": "nominal"}}}
   ]}
 ], "spacing": 0, "bounds": "flush", "resolve": {"scale": {"color": "independent", "shape": "independent"}}}
]
}
